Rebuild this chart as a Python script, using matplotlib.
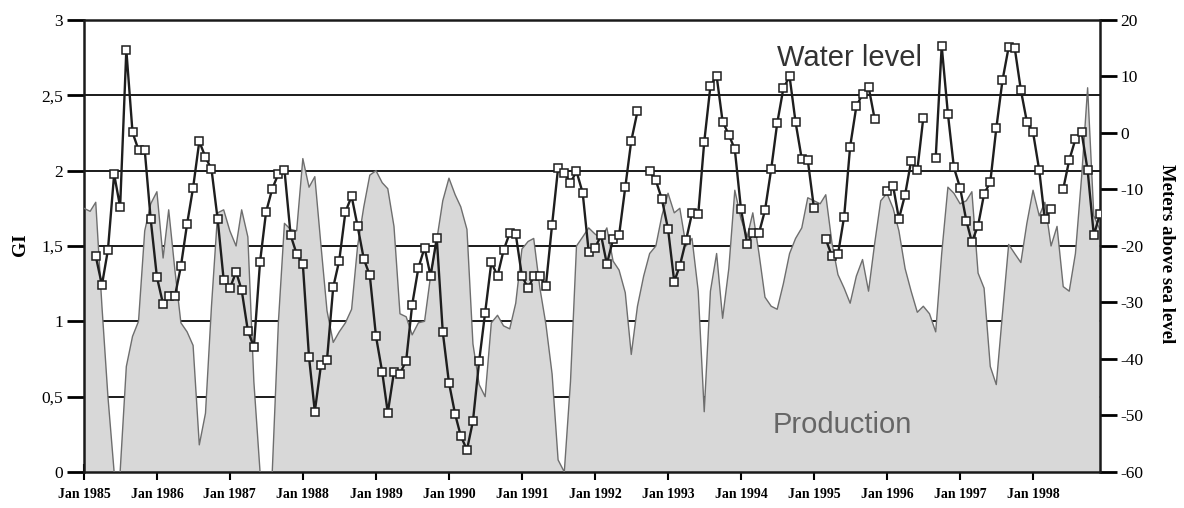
import numpy as np
import pandas as pd
import matplotlib
matplotlib.use("Agg")
import matplotlib.pyplot as plt

# monthly series, Jan 1985 .. Dec 1998
months = pd.date_range("1985-01-01", "1998-12-01", freq="MS")

# production (GI, left axis)
production = [
    1.75, 1.73, 1.79, 1.10, 0.50, 0.00, 0.00, 0.70, 0.90, 1.00,   # 1985
    1.60, 1.78,
    1.86, 1.42, 1.74, 1.34, 0.99, 0.93, 0.84, 0.18, 0.39, 1.10,   # 1986
    1.72, 1.74,
    1.60, 1.50, 1.74, 1.56, 0.60, 0.00, 0.00, 0.00, 1.00, 1.65,   # 1987
    1.61, 1.60,
    2.08, 1.89, 1.96, 1.50, 1.07, 0.86, 0.93, 0.99, 1.08, 1.50,   # 1988
    1.76, 1.97,
    2.00, 1.92, 1.88, 1.63, 1.05, 1.03, 0.91, 0.99, 1.00, 1.30,   # 1989
    1.54, 1.80,
    1.95, 1.84, 1.76, 1.61, 0.85, 0.58, 0.50, 0.99, 1.04, 0.97,   # 1990
    0.95, 1.12,
    1.48, 1.53, 1.55, 1.22, 0.98, 0.65, 0.08, 0.00, 0.60, 1.50,   # 1991
    1.56, 1.62,
    1.58, 1.55, 1.62, 1.40, 1.34, 1.19, 0.78, 1.10, 1.30, 1.45,   # 1992
    1.50, 1.70,
    1.85, 1.72, 1.75, 1.50, 1.55, 1.20, 0.40, 1.20, 1.45, 1.02,   # 1993
    1.35, 1.87,
    1.68, 1.56, 1.72, 1.45, 1.16, 1.10, 1.08, 1.25, 1.45, 1.55,   # 1994
    1.62, 1.82,
    1.80, 1.78, 1.84, 1.52, 1.31, 1.22, 1.12, 1.30, 1.41, 1.20,   # 1995
    1.52, 1.80,
    1.85, 1.75, 1.60, 1.35, 1.20, 1.06, 1.10, 1.05, 0.93, 1.45,   # 1996
    1.89, 1.85,
    1.78, 1.80, 1.86, 1.32, 1.22, 0.70, 0.58, 1.05, 1.51, 1.45,   # 1997
    1.39, 1.65,
    1.87, 1.70, 1.79, 1.50, 1.63, 1.23, 1.20, 1.45, 1.96, 2.55,   # 1998
    1.70, 1.61,
]

nan = np.nan
# water level (meters above sea level, right axis)
water_level = [
    nan, nan, -21.8, -26.9, -20.7, -7.3, -13.1, 14.7, 0.1, -3.0,   # 1985
    -3.0, -15.3,
    -25.5, -30.3, -28.9, -28.9, -23.6, -16.1, -9.7, -1.5, -4.3, -6.4,   # 1986
    -15.3, -26.0,
    -27.5, -24.6, -27.8, -35.0, -37.9, -22.8, -14.0, -9.9, -7.2, -6.5,   # 1987
    -18.1, -21.4,
    -23.2, -39.7, -49.3, -41.0, -40.1, -27.3, -22.6, -14.0, -11.2, -16.5,   # 1988
    -22.3, -25.2,
    -36.0, -42.3, -49.5, -42.3, -42.6, -40.3, -30.4, -23.9, -20.3, -25.3,   # 1989
    -18.6, -35.2,
    -44.2, -49.8, -53.6, -56.1, -51.0, -40.4, -31.8, -22.9, -25.3, -20.8,   # 1990
    -17.7, -17.9,
    -25.3, -27.5, -25.4, -25.4, -27.0, -16.2, -6.2, -7.1, -8.8, -6.8,   # 1991
    -10.6, -21.0,
    -20.4, -18.1, -23.2, -18.8, -18.1, -9.6, -1.4, 3.8, nan, -6.8,   # 1992
    -8.4, -11.7,
    -17.0, -26.3, -23.5, -19.0, -14.2, -14.4, -1.6, 8.3, 10.1, 2.0,   # 1993
    -0.3, -2.9,
    -13.5, -19.6, -17.7, -17.7, -13.7, -6.4, 1.7, 7.9, 10.0, 1.9,   # 1994
    -4.6, -4.8,
    -13.3, nan, -18.8, -21.8, -21.5, -14.8, -2.4, 4.7, 6.9, 8.2,   # 1995
    2.4, nan,
    -10.3, -9.4, -15.2, -10.9, -5.0, -6.6, 2.7, nan, -4.4, 15.4,   # 1996
    3.4, -6.1,
    -9.7, -15.5, -19.3, -16.4, -10.8, -8.7, 0.8, 9.3, 15.2, 15.1,   # 1997
    7.6, 2.0,
    0.1, -6.6, -15.3, -13.4, nan, -9.9, -4.8, -1.1, 0.1, -6.6,   # 1998
    -18.1, -14.4,
]

gi_ticks = [0, 0.5, 1, 1.5, 2, 2.5, 3]
gi_labels = ["0", "0,5", "1", "1,5", "2", "2,5", "3"]
m_ticks = [-60, -50, -40, -30, -20, -10, 0, 10, 20]
years = pd.date_range("1985-01-01", "1998-01-01", freq="YS")
year_labels = ["Jan %d" % d.year for d in years]

serif = "Liberation Serif"
sans = "Liberation Sans"

fig = plt.figure(figsize=(11.84, 5.08), dpi=100)
ax = fig.add_axes([0.0709, 0.0709, 0.858, 0.8898])

ax.fill_between(months, production, 0, facecolor="#d8d8d8", edgecolor="none", zorder=2)
ax.plot(months, production, color="#6e6e6e", lw=1.0, zorder=3)

ax.set_xlim(months[0], months[-1])
ax.set_ylim(0, 3)
ax.set_yticks(gi_ticks)
ax.set_yticklabels(gi_labels, family=serif, fontsize=12.5)
ax.set_xticks(years)
ax.set_xticklabels(year_labels, family=serif, fontsize=10, fontweight="bold")
ax.yaxis.grid(True, color="#1a1a1a", lw=1.4)
ax.set_axisbelow(True)
ax.tick_params(axis="y", direction="out", length=12, width=2, pad=3)
ax.tick_params(axis="x", direction="inout", length=11, width=1.5, pad=6)
for s in ["left", "bottom", "top"]:
    ax.spines[s].set_linewidth(1.8)
    ax.spines[s].set_color("#1a1a1a")
ax.spines["right"].set_visible(False)

ax2 = ax.twinx()
ax2.plot(months, water_level, color="#1e1e1e", lw=1.7, marker="s", ms=5.8,
         mfc="white", mec="#1e1e1e", mew=1.1, zorder=5)
ax2.set_ylim(-60, 20)
ax2.set_yticks(m_ticks)
ax2.set_yticklabels([str(v) for v in m_ticks], family=serif, fontsize=12.5)
ax2.tick_params(axis="y", direction="out", length=12, width=2, pad=3)
for s in ["left", "bottom", "top"]:
    ax2.spines[s].set_visible(False)
ax2.spines["right"].set_linewidth(1.8)
ax2.spines["right"].set_color("#1a1a1a")

ax.text(0.754, 0.916, "Water level", transform=ax.transAxes, ha="center", va="center",
        family=sans, fontsize=21, color="#333333", zorder=6)
ax.text(0.747, 0.104, "Production", transform=ax.transAxes, ha="center", va="center",
        family=sans, fontsize=21, color="#666666", zorder=6)

fig.text(20 / 1184, 1 - 245 / 508, "GI", rotation=90, ha="center", va="center",
         family=serif, fontsize=14, fontweight="bold")
fig.text(1167 / 1184, 0.5, "Meters above sea level", rotation=270, ha="center",
         va="center", family=serif, fontsize=13.5, fontweight="bold")

fig.savefig("out.png", dpi=100)
